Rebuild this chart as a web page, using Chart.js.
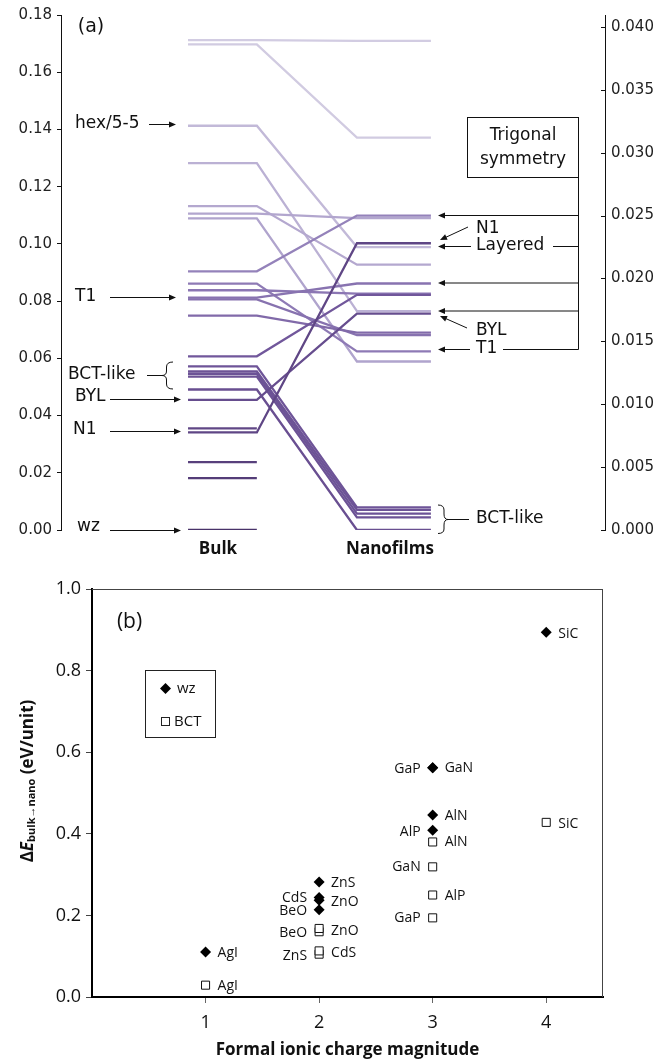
<!DOCTYPE html>
<html>
<head>
<meta charset="utf-8">
<script src="https://cdn.jsdelivr.net/npm/chart.js@4.4.1/dist/chart.umd.min.js"></script>
<style>
  html, body { margin: 0; padding: 0; background: #fff; }
  #wrap { position: relative; width: 669px; height: 1061px; }
  canvas { position: absolute; left: 0; }
</style>
</head>
<body>
<div id="wrap">
  <canvas id="levels" width="669" height="560" style="top:0"></canvas>
  <canvas id="charge" width="669" height="501" style="top:560px"></canvas>
</div>
<script>
// ---- (a) energy levels: bulk (left axis, eV) -> nanofilm (right axis, eV) ----
const bulkLevels = [0.1712, 0.1697, 0.1413, 0.1282, 0.1132, 0.1106, 0.1089, 0.0904, 0.0861, 0.0838, 0.0812, 0.0806,
                    0.0749, 0.0607, 0.0572, 0.0554, 0.0546, 0.0536, 0.0491, 0.0455, 0.0355, 0.0341, 0.0237, 0.0181, 0.0000];
// null = structure has no nanofilm counterpart
const nanoLevels = [0.0389, 0.0312, 0.0225, 0.0174, 0.0211, 0.0248, 0.0134, 0.0250, 0.0142, 0.0188, 0.0196, 0.0155,
                    0.0157, 0.0187, 0.0018, 0.0016, 0.0013, 0.0010, 0.0000, 0.0172, null, 0.0228, null, null, null];
const leftTicks = [0, 0.02, 0.04, 0.06, 0.08, 0.10, 0.12, 0.14, 0.16, 0.18];
const rightTicks = [0, 0.005, 0.010, 0.015, 0.020, 0.025, 0.030, 0.035, 0.040];

// ---- (b) bulk -> nano energy difference vs ionic charge ----
const wzNames = ['AgI', 'ZnS', 'CdS', 'ZnO', 'BeO', 'GaP', 'GaN', 'AlN', 'AlP', 'SiC'];
const wzCharge = [1, 2, 2, 2, 2, 3, 3, 3, 3, 4];
const wzDelta = [0.110, 0.282, 0.244, 0.237, 0.214, 0.562, 0.562, 0.446, 0.409, 0.894];
const bctNames = ['AgI', 'BeO', 'ZnO', 'ZnS', 'CdS', 'GaP', 'AlP', 'GaN', 'AlN', 'SiC'];
const bctCharge = [1, 2, 2, 2, 2, 3, 3, 3, 3, 4];
const bctDelta = [0.029, 0.160, 0.168, 0.105, 0.113, 0.194, 0.250, 0.319, 0.380, 0.428];
const chargeTicks = [1, 2, 3, 4];

// layout helpers (not data)
const segX = [0.2335, 0.360, 0.544, 0.680];   // fraction of plot width: bulk start, bulk end, nano start, nano end
const RIGHT_MAX = 0.04095;                     // right axis top aligned with left 0.18
const wzLabel = { side: ['r', 'r', 'l', 'r', 'l', 'l', 'r', 'r', 'l', 'r'], dy: [1, 1, 1, 2, 1, 1, 0, 1, 2, 2] };
const bctLabel = { side: ['r', 'l', 'r', 'l', 'r', 'l', 'r', 'l', 'r', 'r'], dy: [1, 1, 3, 2, 2, 0, 1, 0, 0, 2] };

const DJ = '"DejaVu Sans", Verdana, sans-serif';
const OS = '"Open Sans", sans-serif';

function levelColor(v) {
  const stops = [[0, [72, 50, 105]], [0.06, [112, 86, 154]], [0.085, [140, 120, 180]], [0.11, [178, 166, 206]], [0.172, [210, 204, 226]]];
  for (let i = 1; i < stops.length; i++) {
    if (v <= stops[i][0]) {
      const t = (v - stops[i - 1][0]) / (stops[i][0] - stops[i - 1][0]);
      const a = stops[i - 1][1], b = stops[i][1];
      return `rgb(${a.map((c, k) => Math.round(c + t * (b[k] - c))).join(',')})`;
    }
  }
  return 'rgb(210,204,226)';
}

function arrow(ctx, x1, y1, x2, y2) {
  const a = Math.atan2(y2 - y1, x2 - x1), h = 7, w = 3;
  ctx.beginPath();
  ctx.moveTo(x1, y1);
  ctx.lineTo(x2 - Math.cos(a) * h * 0.8, y2 - Math.sin(a) * h * 0.8);
  ctx.stroke();
  ctx.beginPath();
  ctx.moveTo(x2, y2);
  ctx.lineTo(x2 - h * Math.cos(a) + w * Math.sin(a), y2 - h * Math.sin(a) - w * Math.cos(a));
  ctx.lineTo(x2 - h * Math.cos(a) - w * Math.sin(a), y2 - h * Math.sin(a) + w * Math.cos(a));
  ctx.closePath();
  ctx.fill();
}

function line(ctx, x1, y1, x2, y2) {
  ctx.beginPath(); ctx.moveTo(x1, y1); ctx.lineTo(x2, y2); ctx.stroke();
}

// build one line dataset per structure
const levelSets = bulkLevels.map((b, i) => {
  const pts = [{ x: segX[0], y: b }, { x: segX[1], y: b }];
  if (nanoLevels[i] !== null) {
    const n = nanoLevels[i] * 0.18 / RIGHT_MAX;
    pts.push({ x: segX[2], y: n }, { x: segX[3], y: n });
  }
  return { data: pts, showLine: true, borderColor: levelColor(b), borderWidth: 2.3, pointRadius: 0, tension: 0, fill: false };
}).reverse();

const levelNotes = {
  id: 'levelNotes',
  afterDraw(chart) {
    const ctx = chart.ctx;
    const yR = chart.scales.y2;
    ctx.save();
    ctx.fillStyle = '#111';
    ctx.strokeStyle = '#111';
    ctx.lineWidth = 1;
    // inner tick marks on the right axis
    rightTicks.forEach(v => { const y = Math.round(yR.getPixelForValue(v)) + 0.5; line(ctx, chart.chartArea.right - 4, y, chart.chartArea.right, y); });

    ctx.textBaseline = 'middle';
    ctx.font = '19px ' + DJ;
    ctx.textAlign = 'center';
    ctx.fillText('(a)', 91, 27);

    ctx.font = '17px ' + DJ;
    ctx.textAlign = 'left';
    ctx.fillText('hex/5-5', 75, 124);
    arrow(ctx, 149, 124.5, 176, 124.5);
    ctx.fillText('T1', 75, 297);
    arrow(ctx, 110, 297.5, 176, 297.5);
    ctx.fillText('BCT-like', 68, 375);
    line(ctx, 147, 375.5, 162, 375.5);
    ctx.beginPath();
    ctx.moveTo(173, 362);
    ctx.quadraticCurveTo(166.5, 362, 166.5, 367);
    ctx.lineTo(166.5, 371);
    ctx.quadraticCurveTo(166.5, 375.5, 162, 375.5);
    ctx.quadraticCurveTo(166.5, 375.5, 166.5, 380);
    ctx.lineTo(166.5, 384);
    ctx.quadraticCurveTo(166.5, 389, 173, 389);
    ctx.stroke();
    ctx.fillText('BYL', 75, 397);
    arrow(ctx, 110, 399.5, 181, 399.5);
    ctx.fillText('N1', 73, 430);
    arrow(ctx, 110, 431.5, 181, 431.5);
    ctx.fillText('wz', 77, 527);
    arrow(ctx, 110, 530.5, 181, 530.5);

    // right side
    ctx.strokeRect(467.5, 117.5, 111, 60);
    ctx.textAlign = 'center';
    ctx.fillText('Trigonal', 523, 136);
    ctx.fillText('symmetry', 523, 160);
    line(ctx, 578.5, 177.5, 578.5, 349.5);
    [215.5, 283, 311].forEach(y => arrow(ctx, 578.5, y, 438, y));
    ctx.textAlign = 'left';
    ctx.fillText('N1', 476, 229);
    arrow(ctx, 468, 227, 440, 240);
    ctx.fillText('Layered', 476, 246);
    arrow(ctx, 471, 246.5, 438, 246.5);
    line(ctx, 553, 246.5, 578.5, 246.5);
    ctx.fillText('BYL', 476, 331);
    arrow(ctx, 467, 328, 440, 316);
    ctx.fillText('T1', 476, 349);
    arrow(ctx, 470, 349.5, 438, 349.5);
    line(ctx, 503, 349.5, 578.5, 349.5);
    ctx.fillText('BCT-like', 476, 519);
    ctx.beginPath();
    ctx.moveTo(438, 505);
    ctx.quadraticCurveTo(444, 505, 444, 510);
    ctx.lineTo(444, 514);
    ctx.quadraticCurveTo(444, 519.5, 448, 519.5);
    ctx.quadraticCurveTo(444, 519.5, 444, 525);
    ctx.lineTo(444, 529);
    ctx.quadraticCurveTo(444, 533.5, 438, 533.5);
    ctx.stroke();
    line(ctx, 448, 519.5, 469, 519.5);

    ctx.font = 'bold 17px ' + OS;
    ctx.textAlign = 'center';
    ctx.fillText('Bulk', 218, 549);
    ctx.fillText('Nanofilms', 390, 549);
    ctx.restore();
  }
};

new Chart(document.getElementById('levels'), {
  type: 'scatter',
  data: { datasets: levelSets },
  options: {
    responsive: false,
    animation: false,
    events: [],
    layout: { padding: { top: 13, bottom: 30, left: 0, right: 0 } },
    plugins: { legend: { display: false }, tooltip: { enabled: false } },
    scales: {
      x: { type: 'linear', min: 0, max: 1, display: false },
      y: {
        position: 'left', min: 0, max: 0.18,
        afterBuildTicks: s => { s.ticks = leftTicks.map(v => ({ value: v })); },
        afterFit: s => { s.width = 61; },
        ticks: { callback: v => v.toFixed(2), font: { family: DJ, size: 15 }, color: '#222', padding: 5 },
        grid: { drawOnChartArea: false, tickLength: 4, color: '#111' },
        border: { color: '#111', width: 1 }
      },
      y2: {
        position: 'right', min: 0, max: RIGHT_MAX,
        afterBuildTicks: s => { s.ticks = rightTicks.map(v => ({ value: v })); },
        afterFit: s => { s.width = 64; },
        ticks: { callback: v => v.toFixed(3), font: { family: DJ, size: 15 }, color: '#222', padding: 6 },
        grid: { drawOnChartArea: false, drawTicks: false },
        border: { color: '#111', width: 1 }
      }
    }
  },
  plugins: [levelNotes]
});

// ---- (b) ----
const chargeNotes = {
  id: 'chargeNotes',
  afterDraw(chart) {
    const ctx = chart.ctx, a = chart.chartArea;
    ctx.save();
    ctx.strokeStyle = '#444';
    ctx.lineWidth = 1;
    line(ctx, a.left, a.top + 0.5, a.right, a.top + 0.5);
    line(ctx, a.right - 0.5, a.top, a.right - 0.5, a.bottom);

    ctx.fillStyle = '#111';
    ctx.textBaseline = 'middle';
    ctx.font = '21px ' + OS;
    ctx.textAlign = 'center';
    ctx.fillText('(b)', 129.5, 62);

    // point labels
    ctx.font = '14px ' + OS;
    [[wzNames, wzLabel], [bctNames, bctLabel]].forEach(([names, place], d) => {
      const meta = chart.getDatasetMeta(d);
      names.forEach((name, i) => {
        const p = meta.data[i];
        if (place.side[i] === 'r') { ctx.textAlign = 'left'; ctx.fillText(name, p.x + 12, p.y + place.dy[i]); }
        else { ctx.textAlign = 'right'; ctx.fillText(name, p.x - 12, p.y + place.dy[i]); }
      });
    });

    // legend
    ctx.strokeStyle = '#222';
    ctx.strokeRect(145.5, 110.5, 70, 67);
    ctx.fillStyle = '#000';
    ctx.beginPath();
    ctx.moveTo(165.5, 123); ctx.lineTo(171, 128.5); ctx.lineTo(165.5, 134); ctx.lineTo(160, 128.5);
    ctx.closePath(); ctx.fill();
    ctx.fillStyle = '#fff';
    ctx.fillRect(161.5, 157.5, 8, 8);
    ctx.strokeRect(161.5, 157.5, 8, 8);
    ctx.fillStyle = '#111';
    ctx.font = '15px ' + OS;
    ctx.textAlign = 'left';
    ctx.fillText('wz', 177, 129);
    ctx.fillText('BCT', 174, 162);

    // rotated y title with subscript
    const parts = [['Δ', 'bold 17px ' + OS, 0], ['E', 'italic bold 17px ' + OS, 0],
                   ['bulk→nano', 'bold 11px ' + OS, 4], [' (eV/unit)', 'bold 17px ' + OS, 0]];
    let total = 0;
    parts.forEach(p => { ctx.font = p[1]; total += ctx.measureText(p[0]).width; });
    ctx.translate(28, 221);
    ctx.rotate(-Math.PI / 2);
    let x = -total / 2;
    parts.forEach(p => { ctx.font = p[1]; ctx.fillText(p[0], x, p[2]); x += ctx.measureText(p[0]).width; });
    ctx.restore();
  }
};

new Chart(document.getElementById('charge'), {
  type: 'scatter',
  data: {
    datasets: [
      { label: 'wz', data: wzCharge.map((c, i) => ({ x: c, y: wzDelta[i] })), pointStyle: 'rectRot', pointRadius: 5.5,
        backgroundColor: '#000', borderColor: '#000', borderWidth: 0 },
      { label: 'BCT', data: bctCharge.map((c, i) => ({ x: c, y: bctDelta[i] })), pointStyle: 'rect', pointRadius: 5.7,
        backgroundColor: '#fff', borderColor: '#111', borderWidth: 1 }
    ]
  },
  options: {
    responsive: false,
    animation: false,
    events: [],
    layout: { padding: { top: 29, right: 66, left: 0, bottom: 0 } },
    plugins: { legend: { display: false }, tooltip: { enabled: false } },
    scales: {
      x: {
        type: 'linear', min: 0, max: 4.5,
        afterBuildTicks: s => { s.ticks = chargeTicks.map(v => ({ value: v })); },
        afterFit: s => { s.height = 64; },
        ticks: { font: { family: OS, size: 18 }, color: '#111', padding: 9 },
        grid: { drawOnChartArea: false, tickLength: 6, color: '#666' },
        border: { color: '#000', width: 2 },
        title: { display: true, text: 'Formal ionic charge magnitude', color: '#111',
                 font: { family: OS, size: 17, weight: 'bold' }, padding: { top: 0, bottom: 1 } }
      },
      y: {
        min: 0, max: 1,
        ticks: { stepSize: 0.2, callback: v => v.toFixed(1), font: { family: OS, size: 18 }, color: '#111', padding: 5 },
        afterFit: s => { s.width = 92; },
        grid: { drawOnChartArea: false, tickLength: 6, color: '#444' },
        border: { color: '#000', width: 2 }
      }
    }
  },
  plugins: [chargeNotes]
});
</script>
</body>
</html>
